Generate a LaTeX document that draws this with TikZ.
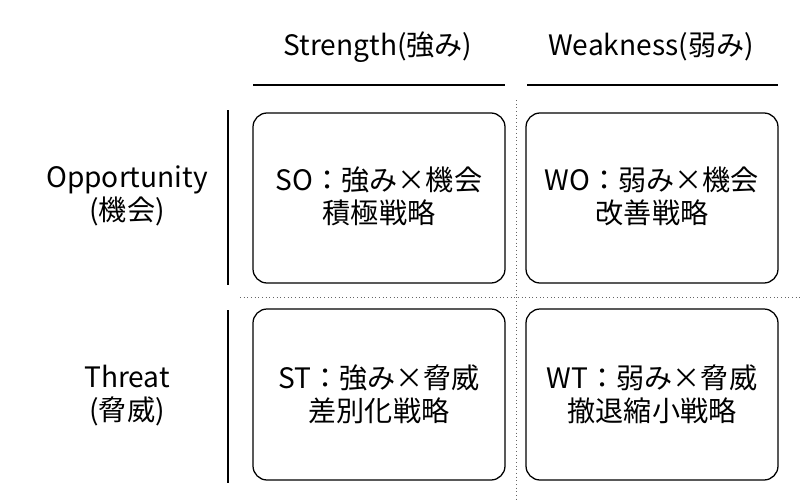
\documentclass[tikz,border=0pt]{standalone}
\usepackage{fontspec}
\setmainfont{Noto Sans CJK JP}
\begin{document}
\begin{tikzpicture}[x=0.025cm,y=-0.025cm,
  lab/.style={font=\fontsize{20}{23.5}\selectfont,align=center,inner sep=0pt},
  cell/.style={draw,line width=0.9pt,rounded corners=10pt},
  rule/.style={line width=1.1pt},
  dots/.style={dotted,line width=0.6pt,gray!80!black}]
\useasboundingbox (0,0) rectangle (800,500);
\node[lab] (hs) at (378,47) {Strength(強み)};
\node[lab] (hw) at (651,47) {Weakness(弱み)};
\draw[rule] (253,85) -- (505,85);
\draw[rule] (527,85) -- (778,85);
\draw[rule] (228,110) -- (228,285);
\draw[rule] (228,310) -- (228,483);
\node[lab] (ro) at (127,196) {Opportunity\\(機会)};
\node[lab] (rt) at (127,396) {Threat\\(脅威)};
\draw[dots] (240,297) -- (800,297);
\draw[dots] (516,100) -- (516,500);
\draw[cell] (253,113) rectangle (505,283);
\draw[cell] (526,113) rectangle (778,283);
\draw[cell] (253,309) rectangle (505,480);
\draw[cell] (526,309) rectangle (778,480);
\node[lab] (so) at (379,196) {SO：強み×機会\\積極戦略};
\node[lab] (wo) at (652,196) {WO：弱み×機会\\改善戦略};
\node[lab] (st) at (379,394) {ST：強み×脅威\\差別化戦略};
\node[lab] (wt) at (652,394) {WT：弱み×脅威\\撤退縮小戦略};
\end{tikzpicture}
\end{document}
